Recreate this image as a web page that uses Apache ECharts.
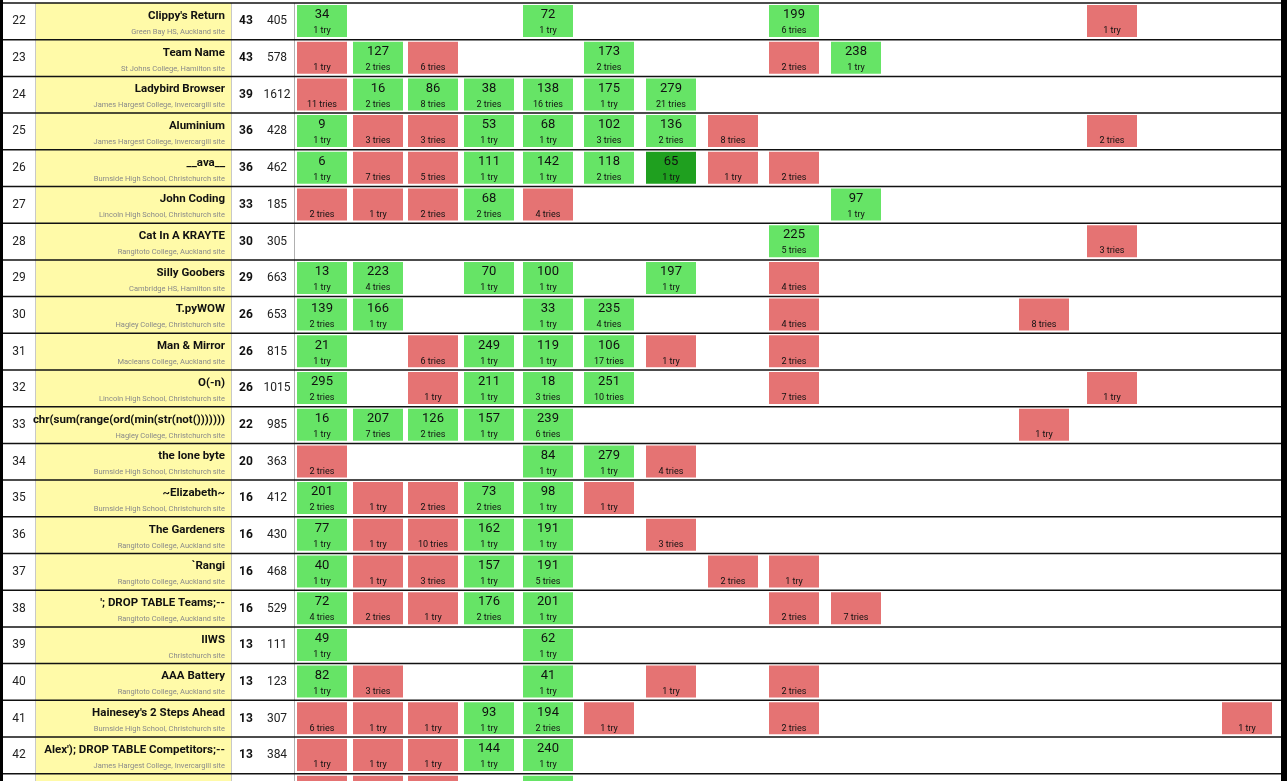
<!DOCTYPE html>
<html><head><meta charset="utf-8">
<script src="https://cdn.jsdelivr.net/npm/echarts@6/dist/echarts.min.js"></script>
<style>html,body{margin:0;padding:0;background:#fff}#c{width:1287px;height:781px}</style>
</head><body><div id="c"></div>
<script>
const ranks=[22,23,24,25,26,27,28,29,30,31,32,33,34,35,36,37,38,39,40,41,42];
const teams=["Clippy's Return","Team Name","Ladybird Browser","Aluminium","__ava__","John Coding","Cat In A KRAYTE","Silly Goobers","T.pyWOW","Man & Mirror","O(-n)","chr(sum(range(ord(min(str(not()))))))","the lone byte","~Elizabeth~","The Gardeners","`Rangi","'; DROP TABLE Teams;--","IIWS","AAA Battery","Hainesey's 2 Steps Ahead","Alex'); DROP TABLE Competitors;--"];
const schools=["Green Bay HS, Auckland site","St Johns College, Hamilton site","James Hargest College, Invercargill site","James Hargest College, Invercargill site","Burnside High School, Christchurch site","Lincoln High School, Christchurch site","Rangitoto College, Auckland site","Cambridge HS, Hamilton site","Hagley College, Christchurch site","Macleans College, Auckland site","Lincoln High School, Christchurch site","Hagley College, Christchurch site","Burnside High School, Christchurch site","Burnside High School, Christchurch site","Rangitoto College, Auckland site","Rangitoto College, Auckland site","Rangitoto College, Auckland site","Christchurch site","Rangitoto College, Auckland site","Burnside High School, Christchurch site","James Hargest College, Invercargill site"];
const solved=[43,43,39,36,36,33,30,29,26,26,26,22,20,16,16,16,16,13,13,13,13];
const penalty=[405,578,1612,428,462,185,305,663,653,815,1015,985,363,412,430,468,529,111,123,307,384];
// cells per rank: "col:time/tries" solved, "col:R/tries" failed, "col:F/time/tries" first solve
const cellRows=[
"0:34/1 4:72/1 8:199/6 13:R/1",
"0:R/1 1:127/2 2:R/6 5:173/2 8:R/2 9:238/1",
"0:R/11 1:16/2 2:86/8 3:38/2 4:138/16 5:175/1 6:279/21",
"0:9/1 1:R/3 2:R/3 3:53/1 4:68/1 5:102/3 6:136/2 7:R/8 13:R/2",
"0:6/1 1:R/7 2:R/5 3:111/1 4:142/1 5:118/2 6:F/65/1 7:R/1 8:R/2",
"0:R/2 1:R/1 2:R/2 3:68/2 4:R/4 9:97/1",
"8:225/5 13:R/3",
"0:13/1 1:223/4 3:70/1 4:100/1 6:197/1 8:R/4",
"0:139/2 1:166/1 4:33/1 5:235/4 8:R/4 12:R/8",
"0:21/1 2:R/6 3:249/1 4:119/1 5:106/17 6:R/1 8:R/2",
"0:295/2 2:R/1 3:211/1 4:18/3 5:251/10 8:R/7 13:R/1",
"0:16/1 1:207/7 2:126/2 3:157/1 4:239/6 12:R/1",
"0:R/2 4:84/1 5:279/1 6:R/4",
"0:201/2 1:R/1 2:R/2 3:73/2 4:98/1 5:R/1",
"0:77/1 1:R/1 2:R/10 3:162/1 4:191/1 6:R/3",
"0:40/1 1:R/1 2:R/3 3:157/1 4:191/5 7:R/2 8:R/1",
"0:72/4 1:R/2 2:R/1 3:176/2 4:201/1 8:R/2 9:R/7",
"0:49/1 4:62/1",
"0:82/1 1:R/3 4:41/1 6:R/1 8:R/2",
"0:R/6 1:R/1 2:R/1 3:93/1 4:194/2 5:R/1 8:R/2 15:R/1",
"0:R/1 1:R/1 2:R/1 3:144/1 4:240/1",
"0:R/1 1:R/1 2:R/1 4:G/0"
];
// layout
const colWidths=[56,55,56,59,61,62,62,61,62,61,62,65,68,67,68,60];
const colStart=297, cellW=50, rowH=36.7, firstTop=3;
const colLeft=[];{let x=colStart;for(const w of colWidths){colLeft.push(x);x+=w;}}

const cells=[];
cellRows.forEach((s,i)=>{const rank=22+i;s.split(' ').forEach(t=>{const [c,rest]=t.split(':');const p=rest.split('/');
 if(p[0]==='R')cells.push([rank,+c,'R','',+p[1]]);
 else if(p[0]==='F')cells.push([rank,+c,'F',p[1],+p[2]]);
 else if(p[0]==='G')cells.push([rank,+c,'G','',0]);
 else cells.push([rank,+c,'G',p[0],+p[1]]);});});
const rowData=ranks.map((r,i)=>[r,i]);
const rowData2=rowData.concat([[43,-1]]);

const yMin=21.5-firstTop/rowH, yMax=yMin+781/rowH;
const chart=echarts.init(document.getElementById('c'),null,{renderer:'canvas'});
const F='Roboto, "Liberation Sans", sans-serif';
chart.setOption({
 animation:false,
 grid:{left:0,right:0,top:0,bottom:0},
 xAxis:{type:'value',min:0,max:1287,show:false},
 yAxis:{type:'value',min:yMin,max:yMax,inverse:true,show:false},
 series:[
 {type:'custom',data:rowData2,renderItem:(p,api)=>{
   const r=api.value(0),i=api.value(1);
   const top=api.coord([0,r-0.5])[1], bot=api.coord([0,r+0.5])[1];
   const x=v=>api.coord([v,r])[0];
   const ch=[
     {type:'rect',shape:{x:x(36),y:top,width:x(231)-x(36),height:bot-top},style:{fill:'#fffaa8'}},
     {type:'line',shape:{x1:x(35.5),y1:top,x2:x(35.5),y2:bot},style:{stroke:'#c8c8c8',lineWidth:1}},
     {type:'line',shape:{x1:x(231.5),y1:top,x2:x(231.5),y2:bot},style:{stroke:'#c8c8c8',lineWidth:1}},
     {type:'line',shape:{x1:x(294.5),y1:top,x2:x(294.5),y2:bot},style:{stroke:'#b0b0b0',lineWidth:1}},
     {type:'line',shape:{x1:x(0),y1:top,x2:x(1287),y2:top},style:{stroke:'#111',lineWidth:1.5}}
   ];
   if(i>=0){
     ch.push(
      {type:'text',x:x(19),y:(top+bot)/2,style:{text:String(ranks[i]),font:'12px '+F,fill:'#222',align:'center',verticalAlign:'middle'}},
      {type:'text',x:x(225),y:top+13,style:{text:teams[i],font:'bold 11.5px '+F,fill:'#111',align:'right',verticalAlign:'middle'}},
      {type:'text',x:x(225),y:top+29,style:{text:schools[i],font:'7.5px '+F,fill:'#8a8a8a',align:'right',verticalAlign:'middle'}},
      {type:'text',x:x(246),y:(top+bot)/2,style:{text:String(solved[i]),font:'bold 12px '+F,fill:'#111',align:'center',verticalAlign:'middle'}},
      {type:'text',x:x(277),y:(top+bot)/2,style:{text:String(penalty[i]),font:'12px '+F,fill:'#222',align:'center',verticalAlign:'middle'}}
     );
   }
   return {type:'group',children:ch};
 }},
 {type:'custom',data:cells,renderItem:(p,api)=>{
   const r=api.value(0),c=api.value(1);const d=cells[p.dataIndex];
   const top=api.coord([0,r-0.5])[1];
   const x0=api.coord([colLeft[c],r])[0], x1=api.coord([colLeft[c]+cellW,r])[0];
   const fill=d[2]==='R'?'#e57373':(d[2]==='F'?'#1fa01f':'#66e466');
   const ch=[{type:'rect',shape:{x:x0,y:top+2,width:x1-x0,height:32},style:{fill:fill}}];
   const cx=(x0+x1)/2;
   if(d[3]!=='')ch.push({type:'text',x:cx,y:top+12,style:{text:d[3],font:'13px '+F,fill:'#111',align:'center',verticalAlign:'middle'}});
   if(d[4]>0)ch.push({type:'text',x:cx,y:top+28,style:{text:d[4]+(d[4]===1?' try':' tries'),font:'9px '+F,fill:'#111',align:'center',verticalAlign:'middle'}});
   return {type:'group',children:ch};
 }},
 {type:'custom',data:[[0]],renderItem:(p,api)=>{
   const a=api.coord([0,yMin]),b=api.coord([1287,yMax]);
   return {type:'group',children:[
    {type:'rect',shape:{x:a[0],y:a[1],width:3,height:b[1]-a[1]},style:{fill:'#000'}},
    {type:'rect',shape:{x:b[0]-6,y:a[1],width:6,height:b[1]-a[1]},style:{fill:'#000'}}]};
 }}
 ]
});
</script></body></html>
